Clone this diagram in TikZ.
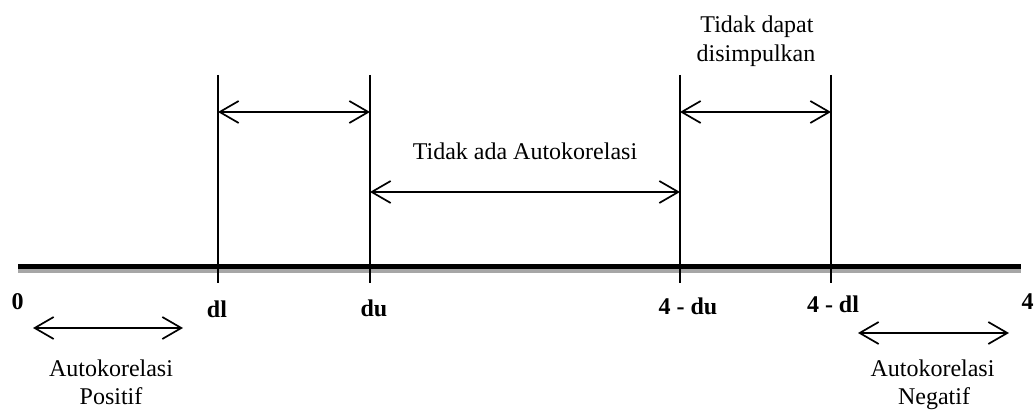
\documentclass[tikz,border=0pt]{standalone}
\usepackage{fontspec}
\setmainfont{Liberation Serif}
\usetikzlibrary{arrows.meta}
\begin{document}
\begin{tikzpicture}[x=0.5pt,y=-0.5pt,
  bound/.style={line width=0.85pt},
  span/.style={line width=0.85pt,
    {Straight Barb[length=9.5pt,width=11pt,line width=0.85pt]}-{Straight Barb[length=9.5pt,width=11pt,line width=0.85pt]}},
  lbl/.style={font=\fontsize{12}{14}\selectfont, anchor=base, inner sep=0pt},
  tk/.style={font=\fontsize{12}{14}\selectfont\bfseries, anchor=base, inner sep=0pt}]
\useasboundingbox (0,0) rectangle (1035,410);

% axis with its grey shadow
\coordinate (axL) at (18,266.5);
\coordinate (axR) at (1021,266.5);
\coordinate (shL) at (18,271);
\coordinate (shR) at (1021,271);
\draw[gray!70, line width=2pt] (shL) -- (shR);
\draw[line width=2.5pt] (axL) -- (axR);

% critical value boundaries
\foreach \n/\x in {dl/218, du/370, udu/680, udl/831}{
  \coordinate (\n T) at (\x,75);
  \coordinate (\n B) at (\x,283);
  \draw[bound] (\n T) -- (\n B);
}

% region spans
\coordinate (s1a) at (218,112);  \coordinate (s1b) at (370,112);
\coordinate (s2a) at (370,192);  \coordinate (s2b) at (680,192);
\coordinate (s3a) at (680,112);  \coordinate (s3b) at (831,112);
\coordinate (s4a) at (33,328);   \coordinate (s4b) at (183,328);
\coordinate (s5a) at (858,333);  \coordinate (s5b) at (1009,333);
\draw[span] (s1a) -- (s1b);
\draw[span] (s2a) -- (s2b);
\draw[span] (s3a) -- (s3b);
\draw[span] (s4a) -- (s4b);
\draw[span] (s5a) -- (s5b);

% region labels
\node[lbl] (tdA) at (757,33) {Tidak dapat};
\node[lbl] (tdB) at (756,62) {disimpulkan};
\node[lbl] (tna) at (525,160) {Tidak ada Autokorelasi};
\node[lbl] (apA) at (111,377) {Autokorelasi};
\node[lbl] (apB) at (111,405) {Positif};
\node[lbl] (anA) at (932.5,377) {Autokorelasi};
\node[lbl] (anB) at (934,405) {Negatif};

% axis values
\node[tk] (v0) at (17.5,310) {0};
\node[tk] (v1) at (217,318) {dl};
\node[tk] (v2) at (374,317) {du};
\node[tk] (v3) at (688,315) {4 - du};
\node[tk] (v4) at (833,313) {4 - dl};
\node[tk] (v5) at (1027.5,310) {4};
\end{tikzpicture}
\end{document}
